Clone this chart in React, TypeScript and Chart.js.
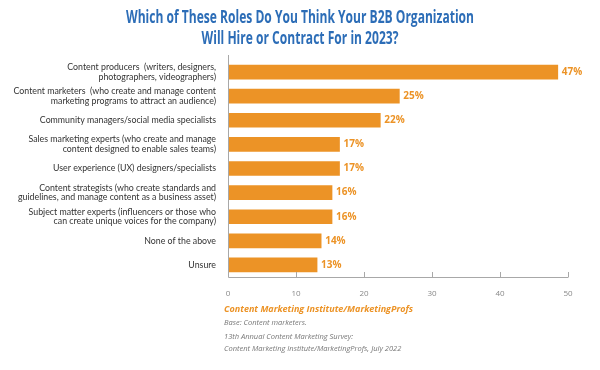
import React, { useEffect, useRef } from "react";
import { Chart, registerables } from "chart.js";

Chart.register(...registerables);

const categories: (string | string[])[] = [
  ["Content producers  (writers, designers,", "photographers, videographers)"],
  ["Content marketers  (who create and manage content", "marketing programs to attract an audience)"],
  "Community managers/social media specialists",
  ["Sales marketing experts (who create and manage", "content designed to enable sales teams)"],
  "User experience (UX) designers/specialists",
  ["Content strategists (who create standards and", "guidelines, and manage content as a business asset)"],
  ["Subject matter experts (influencers or those who", "can create unique voices for the company)"],
  "None of the above",
  "Unsure",
];

// bar lengths as drawn in the reference
const values: number[] = [48.5, 25.2, 22.4, 16.4, 16.4, 15.3, 15.3, 13.7, 13.1];
// printed labels
const valueLabels: string[] = ["47%", "25%", "22%", "17%", "17%", "16%", "16%", "14%", "13%"];
const xTicks: number[] = [0, 10, 20, 30, 40, 50];

const titleLines: string[] = [
  "Which of These Roles Do You Think Your B2B Organization",
  "Will Hire or Contract For in 2023?",
];
const sourceTitle = "Content Marketing Institute/MarketingProfs";
const notes: string[] = [
  "Base: Content marketers.",
  "13th Annual Content Marketing Survey:",
  "Content Marketing Institute/MarketingProfs, July 2022",
];

const ORANGE = "#EC9326";
const BLUE = "#2C6DB7";
const AXIS = "#A8A8A8";

export default function App() {
  const ref = useRef<HTMLCanvasElement>(null);
  useEffect(() => {
    const canvas = ref.current!;
    const deco = {
      id: "deco",
      afterDraw(chart: any) {
        const ctx = chart.ctx as CanvasRenderingContext2D;
        const area = chart.chartArea;
        const xs = chart.scales.x;
        ctx.save();
        // title (condensed to match reference width)
        ctx.fillStyle = BLUE;
        ctx.font = "bold 17px 'Open Sans', sans-serif";
        ctx.textAlign = "center";
        ctx.textBaseline = "middle";
        const w0 = ctx.measureText(titleLines[0]).width;
        const sx = 348 / w0;
        ctx.save();
        ctx.translate(300, 0);
        ctx.scale(sx, 1);
        ctx.fillText(titleLines[0], 0, 18);
        ctx.fillText(titleLines[1], 0, 39);
        ctx.restore();
        // axis lines
        ctx.strokeStyle = AXIS;
        ctx.lineWidth = 1;
        ctx.beginPath();
        ctx.moveTo(Math.round(area.left) + 0.5, 55);
        ctx.lineTo(Math.round(area.left) + 0.5, Math.round(area.bottom) + 0.5);
        ctx.lineTo(Math.round(area.right) + 0.5, Math.round(area.bottom) + 0.5);
        ctx.stroke();
        // tick marks (upward)
        ctx.beginPath();
        xTicks.forEach((t) => {
          if (t === 0) return;
          const px = Math.round(xs.getPixelForValue(t)) + 0.5;
          ctx.moveTo(px, area.bottom - 5);
          ctx.lineTo(px, area.bottom);
        });
        ctx.stroke();
        // value labels
        ctx.fillStyle = ORANGE;
        ctx.font = "bold 10px 'Open Sans', sans-serif";
        ctx.textAlign = "left";
        const meta = chart.getDatasetMeta(0);
        meta.data.forEach((bar: any, i: number) => {
          ctx.fillText(valueLabels[i], bar.x + 4, bar.y);
        });
        // footer
        ctx.font = "italic bold 9px 'Open Sans', sans-serif";
        ctx.fillStyle = ORANGE;
        ctx.fillText(sourceTitle, 224, 309);
        ctx.fillStyle = "#777";
        ctx.font = "italic 7.5px 'Open Sans', sans-serif";
        ctx.fillText(notes[0], 224, 323);
        ctx.fillText(notes[1], 224, 337);
        ctx.fillText(notes[2], 224, 349);
        ctx.restore();
      },
    };
    const chart = new Chart(canvas, {
      type: "bar",
      data: {
        labels: categories,
        datasets: [
          {
            data: values,
            backgroundColor: ORANGE,
            borderWidth: 0,
            barThickness: 14,
          },
        ],
      },
      options: {
        indexAxis: "y",
        animation: false,
        responsive: false,
        maintainAspectRatio: false,
        layout: { padding: { top: 60, right: 32, bottom: 73, left: 0 } },
        plugins: { legend: { display: false }, tooltip: { enabled: false }, title: { display: false } },
        scales: {
          x: {
            min: 0,
            max: 50,
            border: { display: false },
            grid: { display: false },
            ticks: {
              stepSize: 10,
              color: "#888",
              font: { size: 8, family: "'Open Sans', sans-serif" },
              padding: 4,
            },
            afterFit: (s: any) => {
              s.height = 20;
            },
          },
          y: {
            border: { display: false },
            grid: { display: false },
            ticks: {
              color: "#333",
              font: { size: 8.8, family: "Lato, sans-serif", lineHeight: 1.12 },
              padding: 4,
              autoSkip: false,
            },
            afterFit: (s: any) => {
              s.width = 228;
            },
          },
        },
      },
      plugins: [deco],
    });
    return () => chart.destroy();
  }, []);
  return (
    <div style={{ position: "fixed", left: 0, top: 0, width: 600, height: 370, background: "#fff" }}>
      <canvas ref={ref} width={600} height={370} style={{ width: 600, height: 370 }} />
    </div>
  );
}
